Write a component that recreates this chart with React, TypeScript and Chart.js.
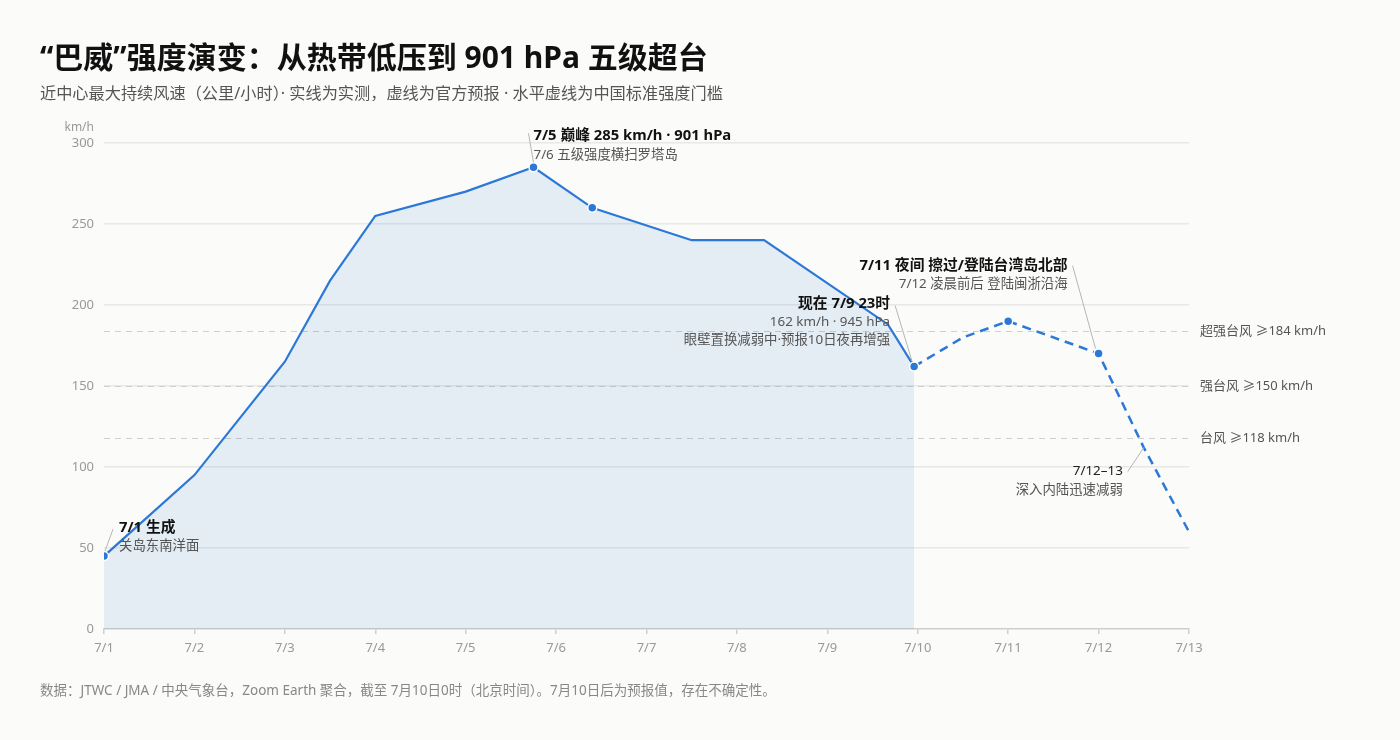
import React, { useEffect, useRef } from "react";
import { Chart, registerables } from "chart.js";

Chart.register(...registerables);

// ---------- data ----------
const dayLabels = ["7/1", "7/2", "7/3", "7/4", "7/5", "7/6", "7/7", "7/8", "7/9", "7/10", "7/11", "7/12", "7/13"];
// days since 7/1 00h
const obsDays = [0, 1, 2, 2.5, 3, 4, 4.75, 5.4, 6.5, 7.3, 8.67, 8.96];
const obsKmh = [45, 95, 165, 215, 255, 270, 285, 260, 240, 240, 188, 162];
const obsDots = [true, false, false, false, false, false, true, true, false, false, false, true];
const fcDays = [8.96, 9.5, 10, 11, 11.5, 12];
const fcKmh = [162, 180, 190, 170, 112, 60];
const fcDots = [false, false, true, true, false, false];
const thresholdKmh = [184, 150, 118];
const thresholdLabels = ["超强台风 ≥184 km/h", "强台风 ≥150 km/h", "台风 ≥118 km/h"];
const yTicks = [0, 50, 100, 150, 200, 250, 300];

const TITLE = "“巴威”强度演变：从热带低压到 901 hPa 五级超台";
const SUBTITLE = "近中心最大持续风速（公里/小时）· 实线为实测，虚线为官方预报 · 水平虚线为中国标准强度门槛";
const FOOTER = "数据：JTWC / JMA / 中央气象台，Zoom Earth 聚合，截至 7月10日0时（北京时间）。7月10日后为预报值，存在不确定性。";

const notes = [
  { day: 0, kmh: 45, title: "7/1 生成", sub: ["关岛东南洋面"], bold: true },
  { day: 4.75, kmh: 285, title: "7/5 巅峰 285 km/h · 901 hPa", sub: ["7/6 五级强度横扫罗塔岛"], bold: true },
  { day: 8.96, kmh: 162, title: "现在 7/9 23时", sub: ["162 km/h · 945 hPa", "眼壁置换减弱中·预报10日夜再增强"], bold: true },
  { day: 11, kmh: 170, title: "7/11 夜间 擦过/登陆台湾岛北部", sub: ["7/12 凌晨前后 登陆闽浙沿海"], bold: true },
  { day: 11.5, kmh: 112, title: "7/12–13", sub: ["深入内陆迅速减弱"], bold: false },
];

// ---------- styles ----------
const FONT = '"Noto Sans", "Noto Sans CJK SC", sans-serif';
const BLUE = "#2b78d6";
const BG = "#fbfbf9";

// per-note layout: text anchor offset, alignment, leader start/end offsets (px from point)
const noteLayout = [
  { dx: 15, dy: -28, align: "left", l: [1, -5, 9, -27], gap: 18.5 },
  { dx: 0, dy: -32, align: "left", l: [0, -5, -5, -34], gap: 20 },
  { dx: -24, dy: -63, align: "right", l: [-2, -5, -19, -61], gap: 18.5 },
  { dx: -31, dy: -88, align: "right", l: [-3, -5, -26, -88], gap: 18.5 },
  { dx: -21, dy: 24, align: "right", l: [0, 0, -16, 24], gap: 18.5 },
];

const overlayPlugin = {
  id: "overlay",
  beforeDatasetsDraw(chart: any) {
    const { ctx, chartArea, scales } = chart;
    const y = scales.y;
    ctx.save();
    thresholdKmh.forEach((v, i) => {
      const py = Math.round(y.getPixelForValue(v)) + 0.5;
      ctx.strokeStyle = "#cfcfcb";
      ctx.lineWidth = 1.2;
      ctx.setLineDash([6, 5]);
      ctx.beginPath();
      ctx.moveTo(chartArea.left, py);
      ctx.lineTo(chartArea.right, py);
      ctx.stroke();
      ctx.setLineDash([]);
      ctx.fillStyle = "#555";
      ctx.font = `13px ${FONT}`;
      ctx.textAlign = "left";
      ctx.textBaseline = "middle";
      ctx.fillText(thresholdLabels[i], chartArea.right + 11, py);
    });
    // unit label
    ctx.fillStyle = "#999";
    ctx.font = `12px ${FONT}`;
    ctx.textAlign = "right";
    ctx.textBaseline = "middle";
    ctx.fillText("km/h", chartArea.left - 10, chartArea.top - 15);
    ctx.restore();
  },
  afterDatasetsDraw(chart: any) {
    const { ctx, scales } = chart;
    ctx.save();
    notes.forEach((n, i) => {
      const L = noteLayout[i];
      const px = scales.x.getPixelForValue(n.day);
      const py = scales.y.getPixelForValue(n.kmh);
      ctx.strokeStyle = "#b5b5b5";
      ctx.lineWidth = 1;
      ctx.beginPath();
      ctx.moveTo(px + L.l[0], py + L.l[1]);
      ctx.lineTo(px + L.l[2], py + L.l[3]);
      ctx.stroke();
      ctx.textAlign = L.align;
      ctx.textBaseline = "middle";
      ctx.font = n.bold ? `bold 14.8px ${FONT}` : `13.4px ${FONT}`;
      ctx.fillStyle = n.bold ? "#111" : "#222";
      ctx.fillText(n.title, px + L.dx, py + L.dy);
      ctx.font = `13.4px ${FONT}`;
      ctx.fillStyle = "#555";
      n.sub.forEach((s, j) => {
        ctx.fillText(s, px + L.dx, py + L.dy + L.gap * (j + 1));
      });
    });
    ctx.restore();
  },
};

export default function App() {
  const ref = useRef<HTMLCanvasElement | null>(null);

  useEffect(() => {
    document.body.style.margin = "0";
    document.body.style.background = BG;
    const canvas = ref.current;
    if (!canvas) return;
    const chart = new Chart(canvas, {
      type: "line",
      data: {
        datasets: [
          {
            label: "实测",
            data: obsDays.map((d, i) => ({ x: d, y: obsKmh[i] })),
            borderColor: BLUE,
            borderWidth: 2.2,
            backgroundColor: "rgba(43,120,214,0.11)",
            fill: "origin",
            tension: 0,
            pointRadius: obsDots.map((s) => (s ? 4.5 : 0)),
            pointBackgroundColor: BLUE,
            pointBorderColor: "#ffffff",
            pointBorderWidth: 1.5,
            pointHoverRadius: 0,
          },
          {
            label: "预报",
            data: fcDays.map((d, i) => ({ x: d, y: fcKmh[i] })),
            borderColor: BLUE,
            borderWidth: 2.5,
            borderDash: [9, 6],
            fill: false,
            tension: 0,
            pointRadius: fcDots.map((s) => (s ? 4.5 : 0)),
            pointBackgroundColor: BLUE,
            pointBorderColor: "#ffffff",
            pointBorderWidth: 1.5,
            pointHoverRadius: 0,
          },
        ],
      },
      options: {
        animation: false,
        responsive: false,
        events: [],
        layout: { padding: { left: 44, right: 211, top: 143, bottom: 0 } },
        plugins: {
          legend: { display: false },
          tooltip: { enabled: false },
          title: { display: false },
        },
        scales: {
          x: {
            type: "linear",
            min: 0,
            max: 12,
            afterFit: (s: any) => {
              s.height = 111;
            },
            afterBuildTicks: (s: any) => {
              s.ticks = dayLabels.map((_, i) => ({ value: i }));
            },
            ticks: {
              callback: (v: any) => dayLabels[Math.round(Number(v))] ?? "",
              color: "#999",
              font: { family: FONT, size: 13 },
              padding: 6,
              maxRotation: 0,
              autoSkip: false,
            },
            grid: {
              drawOnChartArea: false,
              drawTicks: true,
              tickLength: 5,
              color: "#cfcfcb",
              lineWidth: 1.5,
            },
            border: { display: true, color: "#cfcfcb", width: 1.5 },
          },
          y: {
            min: 0,
            max: 300,
            afterFit: (s: any) => {
              s.width = 60;
            },
            afterBuildTicks: (s: any) => {
              s.ticks = yTicks.map((v) => ({ value: v }));
            },
            ticks: {
              color: "#999",
              font: { family: FONT, size: 13 },
              padding: 10,
            },
            grid: {
              drawTicks: false,
              color: (c: any) => (c.tick && c.tick.value === 0 ? "rgba(0,0,0,0)" : "#e8e8e6"),
              lineWidth: 1.5,
            },
            border: { display: false },
          },
        },
      },
      plugins: [overlayPlugin],
    } as any);
    return () => chart.destroy();
  }, []);

  return (
    <div style={{ position: "fixed", left: 0, top: 0, width: 1400, height: 740, background: BG, fontFamily: FONT, overflow: "hidden" }}>
      <canvas ref={ref} width={1400} height={740} style={{ position: "absolute", left: 0, top: 0 }} />
      <div style={{ position: "absolute", left: 40, top: 40, fontSize: 30, lineHeight: "34px", fontWeight: 700, color: "#111", whiteSpace: "nowrap" }}>
        {TITLE}
      </div>
      <div style={{ position: "absolute", left: 40, top: 83, fontSize: 16.2, lineHeight: "20px", color: "#555", whiteSpace: "nowrap" }}>
        {SUBTITLE}
      </div>
      <div style={{ position: "absolute", left: 40, top: 681, fontSize: 13.5, lineHeight: "18px", color: "#888", whiteSpace: "nowrap" }}>
        {FOOTER}
      </div>
    </div>
  );
}
